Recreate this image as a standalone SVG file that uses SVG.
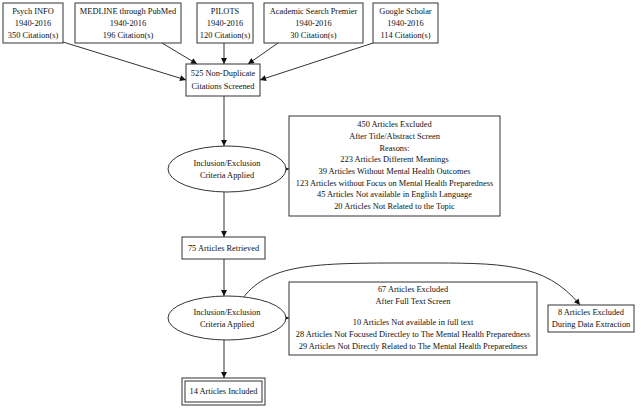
<svg xmlns="http://www.w3.org/2000/svg" width="641" height="409" viewBox="0 0 641 409">
<style>
.box{fill:#fff;stroke:#333;stroke-width:1}
.t{font-family:"Liberation Serif","Times New Roman",serif;font-size:8.4px;fill:#111;text-anchor:middle}
.e{fill:none;stroke:#333;stroke-width:1;marker-end:url(#ah)}
</style>
<defs>
<marker id="ah" viewBox="0 0 10 10" refX="10" refY="5" markerWidth="7" markerHeight="6" markerUnits="userSpaceOnUse" orient="auto">
<path d="M0,0 L10,5 L0,10 z" fill="#111"/>
</marker>
</defs>
<rect width="641" height="409" fill="#fff"/>
<g id="connectors">
<path class="e" d="M63,42 L186,80"/>
<path class="e" d="M162,43 L197,64"/>
<path class="e" d="M224,43 L224,64"/>
<path class="e" d="M278,43 L248,64"/>
<path class="e" d="M373,43 L260,80"/>
<path class="e" d="M224,96 L224,146"/>
<path class="e" d="M286,169 L289,169"/>
<path class="e" d="M224,192 L224,237"/>
<path class="e" d="M224,259 L224,296"/>
<path class="e" d="M286,318 L289,318"/>
<path class="e" d="M224,340 L224,378"/>
<path class="e" d="M243,298 C270,262 320,263 420,263 C500,263 545,262 580,305"/>
</g>
<g id="psych">
<rect class="box" x="3" y="3" width="60" height="40"/>
<text class="t" x="33" y="14">Psych INFO</text>
<text class="t" x="33" y="26">1940-2016</text>
<text class="t" x="33" y="38">350 Citation(s)</text>
</g>
<g id="medline">
<rect class="box" x="75" y="3" width="106" height="40"/>
<text class="t" x="128" y="14">MEDLINE through PubMed</text>
<text class="t" x="128" y="26">1940-2016</text>
<text class="t" x="128" y="38">196 Citation(s)</text>
</g>
<g id="pilots">
<rect class="box" x="197" y="3" width="56" height="40"/>
<text class="t" x="225" y="14">PILOTS</text>
<text class="t" x="225" y="26">1940-2016</text>
<text class="t" x="225" y="38">120 Citation(s)</text>
</g>
<g id="academic">
<rect class="box" x="264" y="3" width="99" height="40"/>
<text class="t" x="313.5" y="14">Academic Search Premier</text>
<text class="t" x="313.5" y="26">1940-2016</text>
<text class="t" x="313.5" y="38">30 Citation(s)</text>
</g>
<g id="google">
<rect class="box" x="373" y="3" width="65" height="40"/>
<text class="t" x="405.5" y="14">Google Scholar</text>
<text class="t" x="405.5" y="26">1940-2016</text>
<text class="t" x="405.5" y="38">114 Citation(s)</text>
</g>
<g id="screened">
<rect class="box" x="186" y="64" width="74" height="32"/>
<text class="t" x="223" y="76">525 Non-Duplicate</text>
<text class="t" x="223" y="89">Citations Screened</text>
</g>
<g id="criteria1">
<ellipse class="box" cx="227" cy="169" rx="59" ry="23"/>
<text class="t" x="227" y="166">Inclusion/Exclusion</text>
<text class="t" x="227" y="178">Criteria Applied</text>
</g>
<g id="excluded1">
<rect class="box" x="289" y="116" width="211" height="100"/>
<text class="t" x="394.5" y="127">450 Articles Excluded</text>
<text class="t" x="394.5" y="139">After Title/Abstract Screen</text>
<text class="t" x="394.5" y="150.5">Reasons:</text>
<text class="t" x="394.5" y="162">223 Articles Different Meanings</text>
<text class="t" x="394.5" y="174">39 Articles Without Mental Health Outcomes</text>
<text class="t" x="394.5" y="185.5">123 Articles without Focus on Mental Health Preparedness</text>
<text class="t" x="394.5" y="197">45 Articles Not available in English Language</text>
<text class="t" x="394.5" y="209">20 Articles Not Related to the Topic</text>
</g>
<g id="retrieved">
<rect class="box" x="182" y="237" width="83" height="22"/>
<text class="t" x="223.5" y="251">75 Articles Retrieved</text>
</g>
<g id="criteria2">
<ellipse class="box" cx="227" cy="318" rx="59" ry="22"/>
<text class="t" x="227" y="315">Inclusion/Exclusion</text>
<text class="t" x="227" y="327">Criteria Applied</text>
</g>
<g id="excluded2">
<rect class="box" x="289" y="282" width="248" height="73"/>
<text class="t" x="413" y="292">67 Articles Excluded</text>
<text class="t" x="413" y="304">After Full Text Screen</text>
<text class="t" x="413" y="325">10 Articles Not available in full text</text>
<text class="t" x="413" y="337">28 Articles Not Focused Directley to The Mental Health Preparedness</text>
<text class="t" x="413" y="349">29 Articles Not Directly Related to The Mental Health Preparedness</text>
</g>
<g id="extraction">
<rect class="box" x="548" y="305" width="86" height="27"/>
<text class="t" x="591" y="315">8 Articles Excluded</text>
<text class="t" x="591" y="327">During Data Extraction</text>
</g>
<g id="included">
<rect class="box" x="182" y="378" width="83" height="27"/>
<rect class="box" x="185" y="381" width="77" height="21"/>
<text class="t" x="223.5" y="394">14 Articles Included</text>
</g>
</svg>
